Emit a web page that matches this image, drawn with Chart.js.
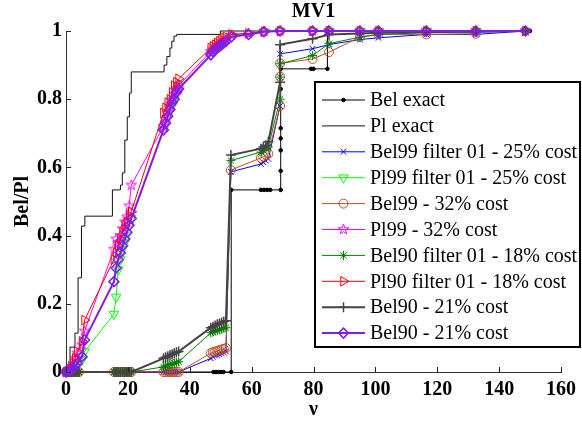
<!DOCTYPE html>
<html><head><meta charset="utf-8">
<script src="https://cdn.jsdelivr.net/npm/chart.js@4.4.0/dist/chart.umd.min.js"></script>
<style>html,body{margin:0;padding:0;background:#fff;}canvas{display:block;}</style>
</head><body>
<canvas id="c" width="582" height="423"></canvas>
<script>
// ---------- data ----------
const seriesLabels = ['Bel exact','Pl exact','Bel99 filter 01 - 25% cost','Pl99 filter 01 - 25% cost',
  'Bel99 - 32% cost','Pl99 - 32% cost','Bel90 filter 01 - 18% cost','Pl90 filter 01 - 18% cost',
  'Bel90 - 21% cost','Bel90 - 21% cost'];

const belExactNu = [0,47.7,48.5,49.3,50.1,50.9,53.4,53.4,63.0,64.0,65.0,66.0,69.4,69.4,69.4,69.4,69.4,69.4,69.4,79.2,80.0,84.5,84.5,150];
const belExactP  = [0,0,0,0,0,0,0,0.534,0.534,0.534,0.534,0.534,0.534,0.59,0.65,0.685,0.715,0.83,0.889,0.889,0.889,0.889,1,1];

const plExactNu = [0,1.3,2.9,3.9,5.0,6.1,15.0,17.6,18.2,19.0,19.8,20.5,21.1,31.7,32.6,33.6,34.2,34.9,35.8,49.9,150];
const plExactP  = [0,0.073,0.114,0.276,0.428,0.457,0.534,0.548,0.584,0.68,0.748,0.818,0.88,0.90,0.925,0.95,0.97,0.985,0.99,1.0,1.0];

// sample points of the upper (Pl-like) approximations
const nuUpper = [0,0.6,1.2,1.8,2.4,3.0,3.6,5.2,6.0,
  15.5,16.2,16.9,17.6,18.3,19.0,19.7,20.4,21.1,
  31.5,32.2,32.9,33.6,34.3,35.0,35.7,36.4,
  46.8,47.5,48.2,48.9,49.6,50.3,51.0,51.7,
  53.5,59.0,64.0,69.2,79.7,85.0,95.0,101.0,116.5,132.5,148.5];
const pl99FilterP = [0,0.002,0.005,0.008,0.012,0.016,0.022,0.035,0.06,
  0.17,0.22,0.30,0.33,0.36,0.38,0.40,0.43,0.45,
  0.71,0.73,0.75,0.765,0.78,0.80,0.815,0.83,
  0.93,0.94,0.945,0.95,0.955,0.96,0.965,0.97,
  0.983,0.99,0.998,1,1,1,1,1,1,1,1];
const pl99P = [0,0.003,0.008,0.015,0.025,0.04,0.055,0.08,0.12,
  0.36,0.39,0.38,0.40,0.42,0.44,0.455,0.487,0.548,
  0.72,0.74,0.76,0.78,0.80,0.815,0.83,0.84,
  0.94,0.945,0.95,0.955,0.96,0.965,0.97,0.975,
  0.988,0.993,0.998,1,1,1,1,1,1,1,1];
const pl90FilterP = [0,0.003,0.008,0.015,0.025,0.04,0.06,0.09,0.152,
  0.33,0.35,0.37,0.39,0.41,0.43,0.44,0.46,0.47,
  0.76,0.775,0.79,0.80,0.82,0.84,0.85,0.86,
  0.95,0.955,0.96,0.965,0.97,0.975,0.98,0.983,
  0.99,0.993,0.998,1,1,1,1,1,1,1,1];
const bel90bP = [0,0.002,0.005,0.008,0.012,0.018,0.025,0.045,0.094,
  0.265,0.305,0.33,0.35,0.37,0.39,0.41,0.43,0.45,
  0.71,0.73,0.75,0.77,0.79,0.80,0.82,0.83,
  0.93,0.94,0.945,0.95,0.955,0.96,0.965,0.97,
  0.983,0.99,0.998,1,1,1,1,1,1,1,1];

// sample points of the lower (Bel-like) approximations
const nuLowerBase = [0,0.6,1.2,1.8,2.4,3.0,3.6,4.2,
  15.5,16.2,16.9,17.6,18.3,19.0,19.7,20.4,21.1,
  31.5,32.2,32.9,33.6,34.3,35.0,35.7,36.4,
  46.8,47.5,48.2,48.9,49.6,50.3,51.0,51.7,
  53.3,63.0,63.8,64.6,65.4];
const nuTailBel99Filter = [69.2,69.2,79.7,85.0,95.0,101.0,116.5,132.5,148.5];
const nuTailBel99 = [69.2,69.2,69.2,79.7,85.0,95.0,101.0,116.5,132.5];
const nuTailBel90Filter = [69.2,69.2,69.2,79.7,85.0,95.0,101.0,116.5,132.5,148.5];
const nuTailBel90 = [69.2,69.2,79.7,85.0,95.0,101.0,116.5,132.5,148.5];

const bel99FilterP = [0,0,0,0,0,0,0,0, 0,0,0,0,0,0,0,0,0, 0,0,0,0,0,0,0,0,
  0.04,0.045,0.048,0.05,0.052,0.055,0.057,0.06, 0.587,0.61,0.615,0.62,0.625,
  0.78,0.933,0.948,0.96,0.975,0.98,0.99,0.99,1.0];
const bel99P = [0,0,0,0,0,0,0,0, 0,0,0,0,0,0,0,0,0, 0,0,0,0,0,0,0,0,
  0.055,0.058,0.06,0.062,0.064,0.066,0.068,0.07, 0.592,0.628,0.632,0.636,0.64,
  0.78,0.866,0.905,0.918,0.938,0.982,0.99,0.99,0.992];
const bel90FilterP = [0,0,0,0,0,0,0,0, 0,0,0,0,0,0,0,0,0,
  0.015,0.018,0.02,0.022,0.024,0.026,0.028,0.03,
  0.115,0.117,0.12,0.122,0.124,0.126,0.128,0.13, 0.62,0.645,0.65,0.655,0.66,
  0.80,0.865,0.904,0.928,0.963,0.982,0.99,0.995,0.997,1.0];
const bel90P = [0,0,0,0,0,0,0,0, 0,0,0,0,0,0,0,0,0,
  0.04,0.043,0.046,0.05,0.052,0.055,0.058,0.06,
  0.13,0.133,0.136,0.14,0.142,0.145,0.148,0.15, 0.636,0.655,0.66,0.665,0.675,
  0.85,0.96,0.977,0.99,0.993,0.995,0.997,0.998,1.0];

// ---------- helpers ----------
const FONT = '"Liberation Serif","Times New Roman",serif';
Chart.defaults.font.family = FONT;
Chart.defaults.color = '#000';

function makePentagram(color, r){
  const s = Math.ceil(2*r+4), c = document.createElement('canvas');
  c.width = s; c.height = s;
  const g = c.getContext('2d');
  g.strokeStyle = color; g.lineWidth = 1;
  g.beginPath();
  for (let k=0;k<10;k++){
    const a = -Math.PI/2 + k*Math.PI/5, rr = (k%2)? r*0.4 : r;
    g.lineTo(s/2 + rr*Math.cos(a), s/2 + rr*Math.sin(a));
  }
  g.closePath(); g.stroke();
  return c;
}
const pentagram = makePentagram('#ff00ff', 5.5);

function pts(xs, ys){ return xs.map((x,i)=>({x:x, y:ys[i]})); }

function mkSet(label, data, color, style, opts){
  return Object.assign({
    label: label, data: data, showLine: true, clip: false,
    borderColor: color, backgroundColor: color, borderWidth: 1,
    pointStyle: style, pointRadius: 4.5, pointBorderColor: color,
    pointBackgroundColor: 'rgba(0,0,0,0)', pointBorderWidth: 1, pointRotation: 0
  }, opts||{});
}

const datasets = [
  mkSet(seriesLabels[0], pts(belExactNu, belExactP), '#000000', 'circle', {pointRadius: 1.8, pointBackgroundColor:'#000'}),
  mkSet(seriesLabels[1], pts(plExactNu, plExactP), '#111111', 'circle', {pointRadius: 0, stepped: 'before'}),
  mkSet(seriesLabels[2], pts(nuLowerBase.concat(nuTailBel99Filter), bel99FilterP), '#0000ff', 'crossRot', {pointRadius: 4}),
  mkSet(seriesLabels[3], pts(nuUpper, pl99FilterP), '#00ff00', 'triangle', {pointRotation: 180, pointRadius: 5.5}),
  mkSet(seriesLabels[4], pts(nuLowerBase.concat(nuTailBel99), bel99P), 'rgb(190,80,30)', 'circle', {pointRadius: 4.5}),
  mkSet(seriesLabels[5], pts(nuUpper, pl99P), '#ff00ff', pentagram, {}),
  mkSet(seriesLabels[6], pts(nuLowerBase.concat(nuTailBel90Filter), bel90FilterP), '#008000', 'star', {pointRadius: 4.5}),
  mkSet(seriesLabels[7], pts(nuUpper, pl90FilterP), '#ff0000', 'triangle', {pointRotation: 90, pointRadius: 5.5}),
  mkSet(seriesLabels[8], pts(nuLowerBase.concat(nuTailBel90), bel90P), '#444444', 'cross', {borderWidth: 2, pointRadius: 5, pointBorderWidth: 1.5}),
  mkSet(seriesLabels[9], pts(nuUpper, bel90bP), 'rgb(128,30,230)', 'rectRot', {borderWidth: 2, pointRadius: 5, pointBorderWidth: 1.5})
];
datasets.forEach((d,i)=>{ d.order = 20 - i; });

function drawMarker(ctx, d, x, y){
  const st = d.pointStyle, r = d.pointRadius;
  if (!r) return;
  ctx.save();
  ctx.strokeStyle = d.pointBorderColor; ctx.fillStyle = d.pointBackgroundColor;
  ctx.lineWidth = d.pointBorderWidth;
  if (typeof st !== 'string'){ ctx.drawImage(st, x - st.width/2, y - st.height/2); ctx.restore(); return; }
  ctx.beginPath();
  if (st === 'circle'){ ctx.arc(x,y,r,0,Math.PI*2); ctx.fill(); ctx.stroke(); }
  else if (st === 'triangle'){
    let a = (d.pointRotation||0)*Math.PI/180;
    for (let k=0;k<3;k++){ ctx.lineTo(x+Math.sin(a)*r, y-Math.cos(a)*r); a += 2*Math.PI/3; }
    ctx.closePath(); ctx.stroke();
  } else if (st === 'rectRot'){
    ctx.moveTo(x-r,y); ctx.lineTo(x,y-r); ctx.lineTo(x+r,y); ctx.lineTo(x,y+r); ctx.closePath(); ctx.stroke();
  } else {
    if (st === 'cross' || st === 'star'){ ctx.moveTo(x-r,y); ctx.lineTo(x+r,y); ctx.moveTo(x,y-r); ctx.lineTo(x,y+r); }
    if (st === 'crossRot' || st === 'star'){ const q=r*Math.SQRT1_2; ctx.moveTo(x-q,y-q); ctx.lineTo(x+q,y+q); ctx.moveTo(x+q,y-q); ctx.lineTo(x-q,y+q); }
    ctx.stroke();
  }
  ctx.restore();
}

const inTicks = {
  id: 'inTicks',
  afterDraw(chart){
    const {ctx, chartArea:{left,bottom}, scales:{x,y}} = chart;
    ctx.save(); ctx.strokeStyle = '#222'; ctx.lineWidth = 1; ctx.beginPath();
    x.ticks.forEach(t=>{ const px = Math.round(x.getPixelForValue(t.value))+0.5; ctx.moveTo(px,bottom); ctx.lineTo(px,bottom-5); });
    y.ticks.forEach(t=>{ const py = Math.round(y.getPixelForValue(t.value))+0.5; ctx.moveTo(left,py); ctx.lineTo(left+5,py); });
    ctx.stroke(); ctx.restore();
  }
};

const boxLegend = {
  id: 'boxLegend',
  afterDraw(chart){
    const ctx = chart.ctx;
    const L = 315, T = 82, W = 265, H = 265;
    ctx.save();
    ctx.fillStyle = '#fff'; ctx.fillRect(L,T,W,H);
    ctx.strokeStyle = '#000'; ctx.lineWidth = 2; ctx.strokeRect(L,T,W,H);
    ctx.font = '20px ' + FONT; ctx.textBaseline = 'middle'; ctx.textAlign = 'left';
    chart.data.datasets.forEach((d,i)=>{
      const y = 100 + i*25.9;
      ctx.strokeStyle = d.borderColor; ctx.lineWidth = d.borderWidth;
      ctx.beginPath(); ctx.moveTo(322,y); ctx.lineTo(365,y); ctx.stroke();
      drawMarker(ctx, d, 343.5, y);
      ctx.fillStyle = '#000'; ctx.fillText(d.label, 370, y+1);
    });
    ctx.restore();
  }
};

new Chart(document.getElementById('c'), {
  type: 'scatter',
  data: { datasets: datasets },
  options: {
    responsive: false, animation: false, devicePixelRatio: 1,
    layout: { padding: { top: 0, right: 16, left: 0, bottom: 0 } },
    plugins: {
      legend: { display: false }, tooltip: { enabled: false },
      title: { display: true, text: 'MV1', fullSize: false, color: '#000',
        font: { family: FONT, size: 20, weight: 'bold', lineHeight: 1.2 },
        padding: { top: 0, bottom: 7 } }
    },
    scales: {
      x: { type: 'linear', min: 0, max: 160,
        ticks: { stepSize: 20, padding: 6, color: '#000', font: { family: FONT, size: 20, weight: 'bold' } },
        grid: { display: false, drawTicks: false },
        border: { display: true, color: '#333', width: 1 },
        title: { display: true, text: 'ν', color: '#000', font: { family: FONT, size: 20, weight: 'bold', lineHeight: 1.2 }, padding: { top: 0, bottom: 1 } },
        afterFit: s => { s.height = 51; } },
      y: { type: 'linear', min: 0, max: 1,
        ticks: { stepSize: 0.2, padding: 4, color: '#000', font: { family: FONT, size: 20, weight: 'bold' },
          callback: v => String(Math.round(v * 10) / 10) },
        grid: { display: false, drawTicks: false },
        border: { display: true, color: '#333', width: 1 },
        title: { display: true, text: 'Bel/Pl', color: '#000', font: { family: FONT, size: 20, weight: 'bold', lineHeight: 1.2 }, padding: { top: 11, bottom: 0 } },
        afterFit: s => { s.width = 66; } }
    }
  },
  plugins: [inTicks, boxLegend]
});
</script>
</body></html>
